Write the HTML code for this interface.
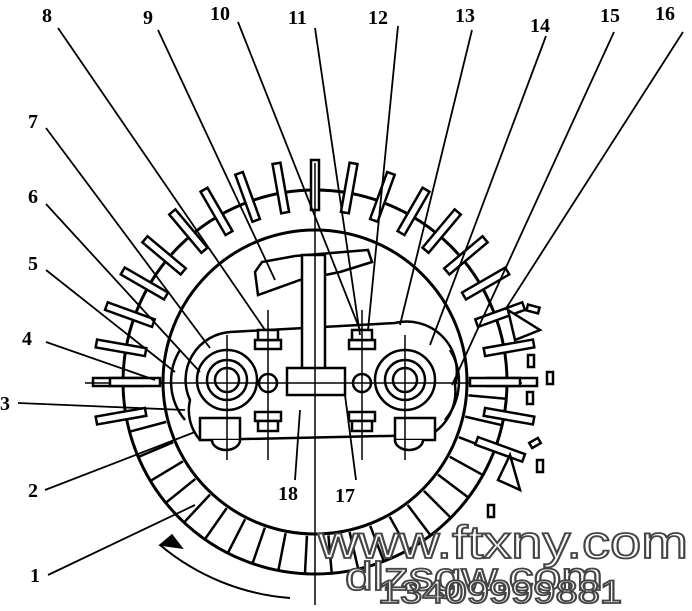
<!DOCTYPE html>
<html><head><meta charset="utf-8"><style>
html,body{margin:0;padding:0;background:#fff;}
svg{display:block;}
.l{font-family:"Liberation Serif",serif;font-size:20px;fill:#000;font-weight:bold;}
</style></head><body>
<svg width="692" height="611" viewBox="0 0 692 611" xmlns="http://www.w3.org/2000/svg">
<defs>
<g id="rod"><rect x="311" y="160" width="8" height="50" fill="#fff" stroke="#000" stroke-width="2.5"/></g>
<g id="slot"><line x1="315" y1="190" x2="315" y2="228" stroke="#000" stroke-width="2.5"/></g>
</defs>
<g fill="none" stroke="#000" stroke-width="3">
<circle cx="315" cy="382" r="192"/>
<circle cx="315" cy="382" r="152"/>
</g>
<g>
<use href="#slot" transform="rotate(95 315 382)"/><use href="#slot" transform="rotate(103 315 382)"/>
<use href="#slot" transform="rotate(111 315 382)"/><use href="#slot" transform="rotate(119 315 382)"/>
<use href="#slot" transform="rotate(127 315 382)"/><use href="#slot" transform="rotate(135 315 382)"/>
<use href="#slot" transform="rotate(143 315 382)"/><use href="#slot" transform="rotate(151 315 382)"/>
<use href="#slot" transform="rotate(159 315 382)"/><use href="#slot" transform="rotate(167 315 382)"/>
<use href="#slot" transform="rotate(175 315 382)"/><use href="#slot" transform="rotate(183 315 382)"/>
<use href="#slot" transform="rotate(191 315 382)"/><use href="#slot" transform="rotate(199 315 382)"/>
<use href="#slot" transform="rotate(207 315 382)"/><use href="#slot" transform="rotate(215 315 382)"/>
<use href="#slot" transform="rotate(223 315 382)"/><use href="#slot" transform="rotate(231 315 382)"/>
<use href="#slot" transform="rotate(239 315 382)"/><use href="#slot" transform="rotate(247 315 382)"/>
<use href="#slot" transform="rotate(255 315 382)"/>
</g>
<g>
<use href="#rod" transform="rotate(-90 315 382)"/><use href="#rod" transform="rotate(-80 315 382)"/>
<use href="#rod" transform="rotate(-70 315 382)"/><use href="#rod" transform="rotate(-60 315 382)"/>
<use href="#rod" transform="rotate(-50 315 382)"/><use href="#rod" transform="rotate(-40 315 382)"/>
<use href="#rod" transform="rotate(-30 315 382)"/><use href="#rod" transform="rotate(-20 315 382)"/>
<use href="#rod" transform="rotate(-10 315 382)"/><use href="#rod" transform="rotate(0 315 382)"/>
<use href="#rod" transform="rotate(10 315 382)"/><use href="#rod" transform="rotate(20 315 382)"/>
<use href="#rod" transform="rotate(30 315 382)"/><use href="#rod" transform="rotate(40 315 382)"/>
<use href="#rod" transform="rotate(50 315 382)"/><use href="#rod" transform="rotate(60 315 382)"/>
<use href="#rod" transform="rotate(70 315 382)"/><use href="#rod" transform="rotate(80 315 382)"/>
<use href="#rod" transform="rotate(90 315 382)"/><use href="#rod" transform="rotate(-100 315 382)"/>
<use href="#rod" transform="rotate(100 315 382)"/><use href="#rod" transform="rotate(110 315 382)"/>
</g>
<g fill="#fff" stroke="#000" stroke-width="2.5">
<path d="M190 400 A48 48 0 0 1 230 332 L395 323 A50 50 0 0 1 455 385 A50 50 0 0 1 430 435 L200 440 A45 45 0 0 1 190 400 Z"/>
<path d="M255 272 L262 262 L295 256 L368 250 L372 262 L340 272 L300 280 L258 295 Z"/>
<rect x="302" y="255" width="23" height="138"/>
<rect x="287" y="368" width="58" height="27"/>
<circle cx="227" cy="380" r="30"/><circle cx="227" cy="380" r="20"/><circle cx="227" cy="380" r="12"/>
<circle cx="405" cy="380" r="30"/><circle cx="405" cy="380" r="20"/><circle cx="405" cy="380" r="12"/>
<rect x="255" y="340" width="26" height="9"/><rect x="258" y="330" width="20" height="10"/>
<rect x="255" y="412" width="26" height="9"/><rect x="258" y="421" width="20" height="10"/>
<rect x="349" y="340" width="26" height="9"/><rect x="352" y="330" width="20" height="10"/>
<rect x="349" y="412" width="26" height="9"/><rect x="352" y="421" width="20" height="10"/>
<circle cx="268" cy="383" r="9"/><circle cx="362" cy="383" r="9"/>
<rect x="200" y="418" width="40" height="22"/><rect x="395" y="418" width="40" height="22"/>
<path d="M212 440 A14 10 0 0 0 240 440"/><path d="M395 440 A14 10 0 0 0 423 440"/>
</g>
<g fill="none" stroke="#000" stroke-width="1.5">
<line x1="315" y1="163" x2="315" y2="605"/>
<line x1="85" y1="383" x2="522" y2="383"/>
<line x1="268" y1="310" x2="268" y2="460"/><line x1="362" y1="310" x2="362" y2="460"/>
<line x1="227" y1="335" x2="227" y2="460"/><line x1="405" y1="335" x2="405" y2="460"/>
<path d="M180 350 A60 60 0 0 0 185 420" stroke-width="2.5"/>
<path d="M450 350 A60 60 0 0 1 445 420" stroke-width="2.5"/>
<path d="M290 598 A230 230 0 0 1 160 545" stroke-width="2"/>
<path d="M160 545 L182 548 L172 535 Z" fill="#000"/>
</g>
<rect x="110" y="378" width="50" height="8" fill="#fff" stroke="#000" stroke-width="2.5"/>
<rect x="470" y="378" width="50" height="8" fill="#fff" stroke="#000" stroke-width="2.5"/>
<g fill="#fff" stroke="#000" stroke-width="2.5">
<rect x="527" y="306" width="12" height="6" transform="rotate(15 533 309)"/>
<rect x="528" y="355" width="6" height="12"/><rect x="547" y="372" width="6" height="12"/>
<rect x="527" y="392" width="6" height="12"/><rect x="530" y="440" width="10" height="6" transform="rotate(-30 535 443)"/>
<rect x="537" y="460" width="6" height="12"/><rect x="488" y="505" width="6" height="12"/>
<path d="M508 310 L540 330 L515 340 Z"/><path d="M510 455 L520 490 L498 480 Z"/>
</g>
<g stroke="#000" stroke-width="1.8" fill="none">
<line x1="58" y1="28" x2="265" y2="330"/>
<line x1="158" y1="30" x2="275" y2="280"/>
<line x1="238" y1="22" x2="360" y2="330"/>
<line x1="315" y1="28" x2="360" y2="335"/>
<line x1="398" y1="26" x2="368" y2="330"/>
<line x1="472" y1="30" x2="400" y2="325"/>
<line x1="546" y1="36" x2="430" y2="345"/>
<line x1="614" y1="32" x2="452" y2="385"/>
<line x1="683" y1="32" x2="505" y2="310"/>
<line x1="46" y1="128" x2="210" y2="348"/>
<line x1="46" y1="204" x2="200" y2="372"/>
<line x1="46" y1="270" x2="175" y2="372"/>
<line x1="46" y1="342" x2="155" y2="380"/>
<line x1="18" y1="403" x2="185" y2="410"/>
<line x1="45" y1="490" x2="195" y2="432"/>
<line x1="48" y1="575" x2="195" y2="505"/>
<line x1="295" y1="480" x2="300" y2="410"/>
<line x1="356" y1="480" x2="345" y2="395"/>
</g>
<g class="l">
<text x="42" y="22">8</text><text x="143" y="24">9</text><text x="210" y="20">10</text>
<text x="288" y="24">11</text><text x="368" y="24">12</text><text x="455" y="22">13</text>
<text x="530" y="32">14</text><text x="600" y="22">15</text><text x="655" y="20">16</text>
<text x="28" y="128">7</text><text x="28" y="203">6</text><text x="28" y="270">5</text>
<text x="22" y="345">4</text><text x="0" y="410">3</text><text x="28" y="497">2</text>
<text x="30" y="582">1</text><text x="278" y="500">18</text><text x="335" y="502">17</text>
</g>
<g font-family="Liberation Sans, sans-serif" fill="#fff" stroke="#444" stroke-width="1.8">
<text x="318" y="558" font-size="46" textLength="370" lengthAdjust="spacingAndGlyphs">www.ftxny.com</text>
<text x="345" y="590" font-size="40" textLength="258" lengthAdjust="spacingAndGlyphs">dlzsgw.com</text>
<text x="378" y="603" font-size="32" textLength="244" lengthAdjust="spacingAndGlyphs">13409999881</text>
</g>
</svg>
</body></html>
